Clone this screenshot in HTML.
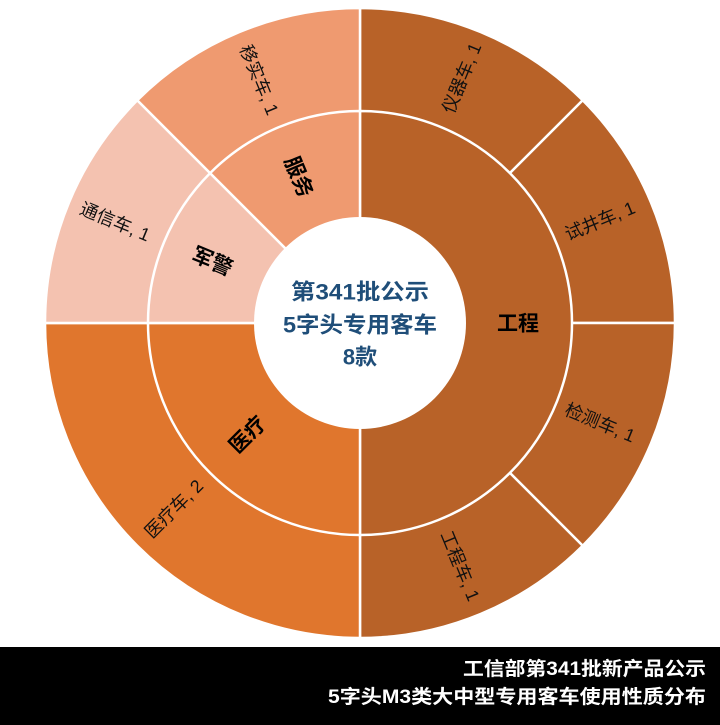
<!DOCTYPE html>
<html><head><meta charset="utf-8"><style>
html,body{margin:0;padding:0;background:#fff;width:720px;height:725px;overflow:hidden}
svg{display:block}
text{font-family:"Liberation Sans","Noto Sans CJK SC",sans-serif}
</style></head><body>
<svg width="720" height="725" viewBox="0 0 720 725" xmlns="http://www.w3.org/2000/svg">
<g stroke="#fff" stroke-width="2.5">
<path d="M360,323 L360,8 A315,315 0 0 1 582.7,100.3 Z" fill="#B86228"/>
<path d="M360,323 L582.7,100.3 A315,315 0 0 1 675,323 Z" fill="#B86228"/>
<path d="M360,323 L675,323 A315,315 0 0 1 582.7,545.7 Z" fill="#B86228"/>
<path d="M360,323 L582.7,545.7 A315,315 0 0 1 360,638 Z" fill="#B86228"/>
<path d="M360,323 L360,638 A315,315 0 0 1 45,323 Z" fill="#E0762D"/>
<path d="M360,323 L45,323 A315,315 0 0 1 137.3,100.3 Z" fill="#F4C2B0"/>
<path d="M360,323 L137.3,100.3 A315,315 0 0 1 360,8 Z" fill="#EF9A70"/>
<path d="M360,323 L360,111 A212,212 0 0 1 360,535 Z" fill="#B86228"/>
<path d="M360,323 L360,535 A212,212 0 0 1 148,323 Z" fill="#E0762D"/>
<path d="M360,323 L148,323 A212,212 0 0 1 210.1,173.1 Z" fill="#F4C2B0"/>
<path d="M360,323 L210.1,173.1 A212,212 0 0 1 360,111 Z" fill="#EF9A70"/>
</g>
<circle cx="360" cy="323" r="106" fill="#fff"/>
<g font-size="18" fill="#111" text-anchor="middle" dominant-baseline="central">
<text transform="translate(462,78) rotate(-67.5)">仪器车, 1</text>
<text transform="translate(600,221) rotate(-22.5)">试井车, 1</text>
<text transform="translate(600,423) rotate(22.5)">检测车, 1</text>
<text transform="translate(460,566) rotate(67.5)">工程车, 1</text>
<text transform="translate(174,509) rotate(-45)">医疗车, 2</text>
<text transform="translate(115,222) rotate(22.5)">通信车, 1</text>
<text transform="translate(259,80) rotate(67.5)">移实车, 1</text>
</g>
<g font-size="21" font-weight="bold" fill="#000" text-anchor="middle" dominant-baseline="central">
<text transform="translate(298,177) rotate(67.5)">服务</text>
<text transform="translate(212,262) rotate(22.5)">军警</text>
<text transform="translate(248,435) rotate(-45)">医疗</text>
<text transform="translate(518,324)">工程</text>
</g>
<g font-size="22" font-weight="bold" fill="#1F4E79" text-anchor="middle" dominant-baseline="central">
<text x="360" y="292" textLength="138" lengthAdjust="spacingAndGlyphs">第341批公示</text>
<text x="360" y="325" textLength="154" lengthAdjust="spacingAndGlyphs">5字头专用客车</text>
<text x="360" y="357">8款</text>
</g>
<rect x="0" y="647" width="720" height="78" fill="#000"/>
<g font-size="19" font-weight="bold" fill="#fff">
<text x="463" y="675" textLength="243" lengthAdjust="spacingAndGlyphs">工信部第341批新产品公示</text>
<text x="328" y="703" textLength="378" lengthAdjust="spacingAndGlyphs">5字头M3类大中型专用客车使用性质分布</text>
</g>
</svg>
</body></html>
